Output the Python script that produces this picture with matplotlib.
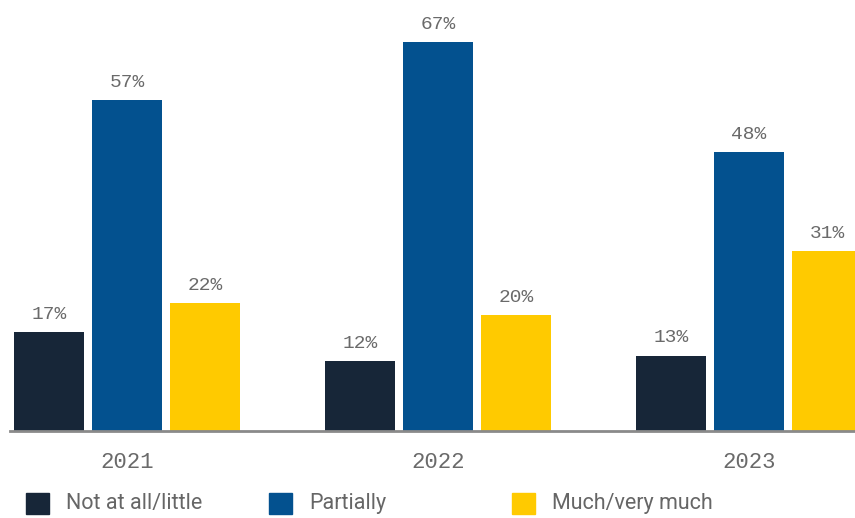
import matplotlib.pyplot as plt
from matplotlib.patches import Rectangle
import numpy as np

years = ['2021', '2022', '2023']
series = ['Not at all/little', 'Partially', 'Much/very much']
not_at_all = [17, 12, 13]
partially = [57, 67, 48]
much = [22, 20, 31]
colors = ['#172638', '#03518F', '#FFCA00']

fig = plt.figure(figsize=(8.55, 5.18), dpi=100)
ax = fig.add_axes([10 / 855, 87 / 518, 845 / 855, 421 / 518])

x = np.arange(len(years))
w = 70 / 311
off = 78 / 311
label_col = '#6a6a6a'
mono = 'Liberation Mono'

for i, (vals, c) in enumerate(zip([not_at_all, partially, much], colors)):
    pos = x + (i - 1) * off
    bars = ax.bar(pos, vals, width=w, color=c, label=series[i])
    for b, v in zip(bars, vals):
        ax.text(b.get_x() + b.get_width() / 2, v + 1.6, f'{v}%', ha='center', va='bottom',
                fontsize=14, family=mono, color=label_col)

ax.set_xlim(-117 / 311, 728 / 311)
ax.set_ylim(0, 72.5)
for s in ['top', 'right', 'left']:
    ax.spines[s].set_visible(False)
ax.spines['bottom'].set_color('#8a8a8a')
ax.spines['bottom'].set_linewidth(2)
ax.set_yticks([])
ax.set_xticks(x)
ax.set_xticklabels(years, family=mono, fontsize=16, color=label_col)
ax.tick_params(axis='x', length=0, pad=15)

# legend drawn by hand to match spacing
leg_x = [26, 269, 512]
for lx, name, c in zip(leg_x, series, colors):
    fig.add_artist(Rectangle((lx / 855, (518 - 514) / 518), 23 / 855, 21 / 518,
                             transform=fig.transFigure, color=c))
    fig.text((lx + 40) / 855, (518 - 503) / 518, name, va='center', ha='left',
             family='Roboto', fontsize=15.5, color='#666666')

fig.savefig('out.png', dpi=100)
